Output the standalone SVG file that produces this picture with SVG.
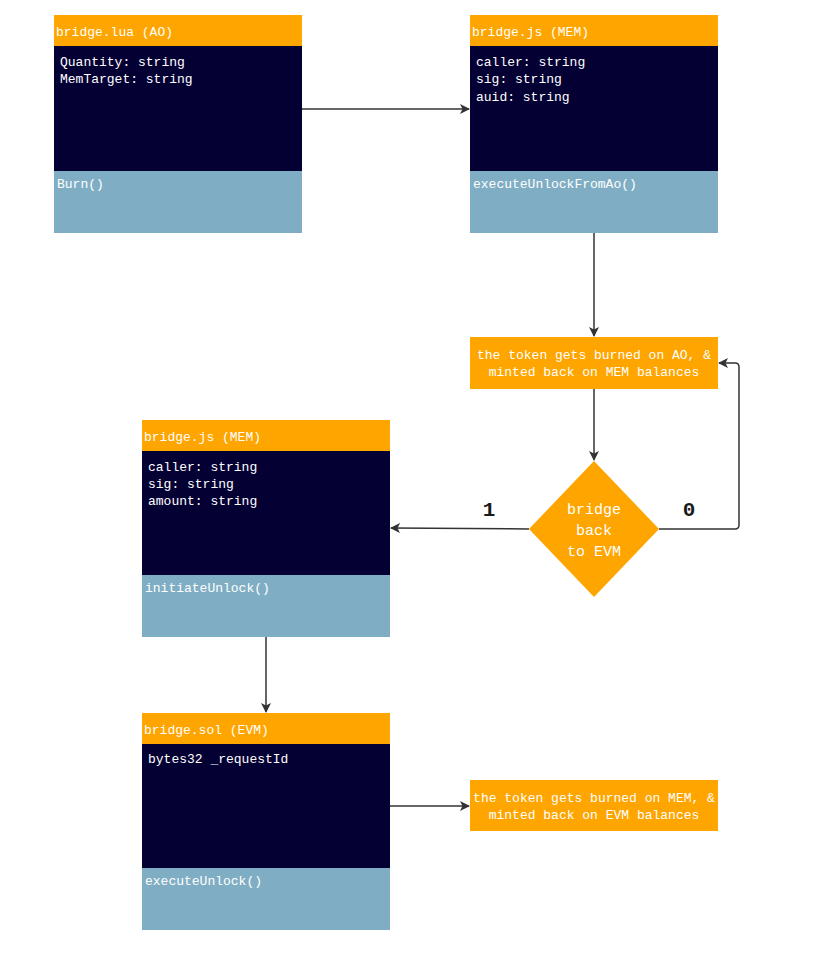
<svg xmlns="http://www.w3.org/2000/svg" width="813" height="955" viewBox="0 0 813 955">
<defs>
<style>
text{font-family:"Liberation Mono","DejaVu Sans Mono",monospace;font-size:13px;fill:#ffffff}
.hd{fill:#FFA500}
.bd{fill:#050033}
.ft{fill:#7FAEC4}
.lbl{fill:#1a1a1a;font-size:21px;font-weight:bold}
.dt{font-size:15px}
.edge{fill:none;stroke:#333333;stroke-width:1.5}
</style>
<marker id="ah" viewBox="0 0 10 10" refX="9" refY="5" markerWidth="10" markerHeight="10" markerUnits="userSpaceOnUse" orient="auto">
<path d="M0,0 L10,5 L0,10 L2.5,5 Z" fill="#333333"/>
</marker>
</defs>
<rect width="813" height="955" fill="#ffffff"/>

<g id="connectors">
<path class="edge" d="M302,109 L469,109" marker-end="url(#ah)"/>
<path class="edge" d="M594,233 L594,336" marker-end="url(#ah)"/>
<path class="edge" d="M594,389 L594,460" marker-end="url(#ah)"/>
<path class="edge" d="M529,529 L391,528" marker-end="url(#ah)"/>
<path class="edge" d="M659,529 L735,529 Q739,529 739,525 L739,367 Q739,363 735,363 L719,363" marker-end="url(#ah)"/>
<path class="edge" d="M266,637 L266,712" marker-end="url(#ah)"/>
<path class="edge" d="M390,806 L469,806" marker-end="url(#ah)"/>
<text class="lbl" x="489" y="516" text-anchor="middle">1</text>
<text class="lbl" x="689" y="516" text-anchor="middle">0</text>
</g>

<g id="bridge-lua">
<rect class="hd" x="54" y="15" width="248" height="31"/>
<rect class="bd" x="54" y="46" width="248" height="125"/>
<rect class="ft" x="54" y="171" width="248" height="62"/>
<text x="56" y="36">bridge.lua (AO)</text>
<text x="60" y="66">Quantity: string</text>
<text x="60" y="83">MemTarget: string</text>
<text x="57" y="188">Burn()</text>
</g>

<g id="bridge-js-1">
<rect class="hd" x="470" y="15" width="248" height="31"/>
<rect class="bd" x="470" y="46" width="248" height="125"/>
<rect class="ft" x="470" y="171" width="248" height="62"/>
<text x="472" y="36">bridge.js (MEM)</text>
<text x="476" y="66">caller: string</text>
<text x="476" y="83">sig: string</text>
<text x="476" y="101">auid: string</text>
<text x="473" y="188">executeUnlockFromAo()</text>
</g>

<g id="process-ao">
<rect class="hd" x="470" y="337" width="248" height="52"/>
<text x="594" y="359" text-anchor="middle">the token gets burned on AO, &amp;</text>
<text x="594" y="376" text-anchor="middle">minted back on MEM balances</text>
</g>

<g id="decision">
<path class="hd" d="M594,461 L659,529 L594,597 L529,529 Z"/>
<text class="dt" x="594" y="514" text-anchor="middle">bridge</text>
<text class="dt" x="594" y="535" text-anchor="middle">back</text>
<text class="dt" x="594" y="556" text-anchor="middle">to EVM</text>
</g>

<g id="bridge-js-2">
<rect class="hd" x="142" y="420" width="248" height="31"/>
<rect class="bd" x="142" y="451" width="248" height="124"/>
<rect class="ft" x="142" y="575" width="248" height="62"/>
<text x="144" y="441">bridge.js (MEM)</text>
<text x="148" y="471">caller: string</text>
<text x="148" y="488">sig: string</text>
<text x="148" y="505">amount: string</text>
<text x="145" y="592">initiateUnlock()</text>
</g>

<g id="bridge-sol">
<rect class="hd" x="142" y="713" width="248" height="31"/>
<rect class="bd" x="142" y="744" width="248" height="124"/>
<rect class="ft" x="142" y="868" width="248" height="62"/>
<text x="144" y="734">bridge.sol (EVM)</text>
<text x="148" y="763">bytes32 _requestId</text>
<text x="145" y="885">executeUnlock()</text>
</g>

<g id="process-mem">
<rect class="hd" x="470" y="780" width="248" height="51"/>
<text x="594" y="802" text-anchor="middle">the token gets burned on MEM, &amp;</text>
<text x="594" y="819" text-anchor="middle">minted back on EVM balances</text>
</g>
</svg>
